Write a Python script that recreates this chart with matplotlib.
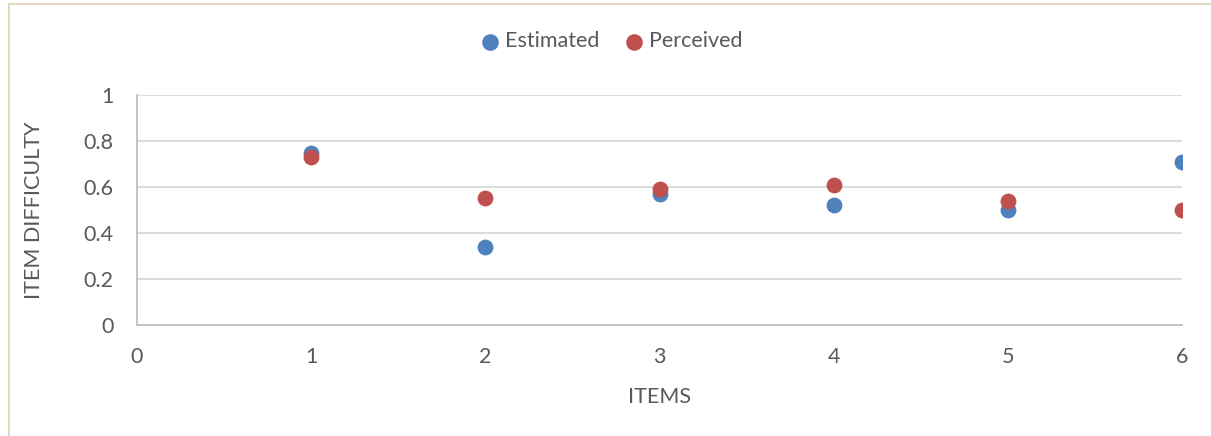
import matplotlib
matplotlib.use("Agg")
import matplotlib.pyplot as plt
from matplotlib.lines import Line2D

items = [1, 2, 3, 4, 5, 6]
estimated = [0.75, 0.34, 0.57, 0.52, 0.50, 0.71]
perceived = [0.73, 0.55, 0.59, 0.61, 0.54, 0.50]
x_ticks = [0, 1, 2, 3, 4, 5, 6]
y_ticks = [0, 0.2, 0.4, 0.6, 0.8, 1]
y_ticklabels = ["0", "0.2", "0.4", "0.6", "0.8", "1"]

plt.rcParams['font.family'] = ['Lato', 'DejaVu Sans']
text_color = "#595959"
fs = 15.5

fig = plt.figure(figsize=(12.11, 4.36), dpi=100)
ax = fig.add_axes([0.1131, 0.2546, 0.9761 - 0.1131, 0.7821 - 0.2546])

ax.scatter(items, estimated, s=130, color="#4F81BD", label="Estimated", zorder=3, linewidths=0)
ax.scatter(items, perceived, s=130, color="#C0504D", label="Perceived", zorder=4, linewidths=0)

ax.set_xlim(0, 6)
ax.set_ylim(0, 1)
ax.set_xticks(x_ticks)
ax.set_yticks(y_ticks)
ax.set_yticklabels(y_ticklabels)
ax.yaxis.grid(True, color="#D9D9D9", linewidth=1.3)
ax.set_axisbelow(True)
for side in ["top", "right"]:
    ax.spines[side].set_visible(False)
ax.spines["left"].set_color("#BFBFBF")
ax.spines["bottom"].set_color("#BFBFBF")
ax.spines["left"].set_linewidth(1.3)
ax.spines["bottom"].set_linewidth(1.3)
ax.tick_params(axis="both", length=0, labelsize=fs, colors=text_color)
ax.tick_params(axis="x", pad=16)
ax.tick_params(axis="y", pad=17)

ax.set_xlabel("ITEMS", fontsize=fs, color=text_color, labelpad=14)
ax.set_ylabel("ITEM DIFFICULTY", fontsize=fs, color=text_color, labelpad=28)

fig.legend(loc="center", bbox_to_anchor=(0.5, 0.905), ncol=2, frameon=False,
           fontsize=fs, labelcolor=text_color, handletextpad=-0.3, columnspacing=0.6,
           markerscale=1.05)

# figure border (light beige)
fig.add_artist(Line2D([9/1211, 9/1211], [0, 1 - 4/436], transform=fig.transFigure, color="#E2DAC2", linewidth=1.5))
fig.add_artist(Line2D([9/1211, 1], [1 - 4/436, 1 - 4/436], transform=fig.transFigure, color="#E2DAC2", linewidth=1.5))

fig.savefig("out.png", dpi=100)
